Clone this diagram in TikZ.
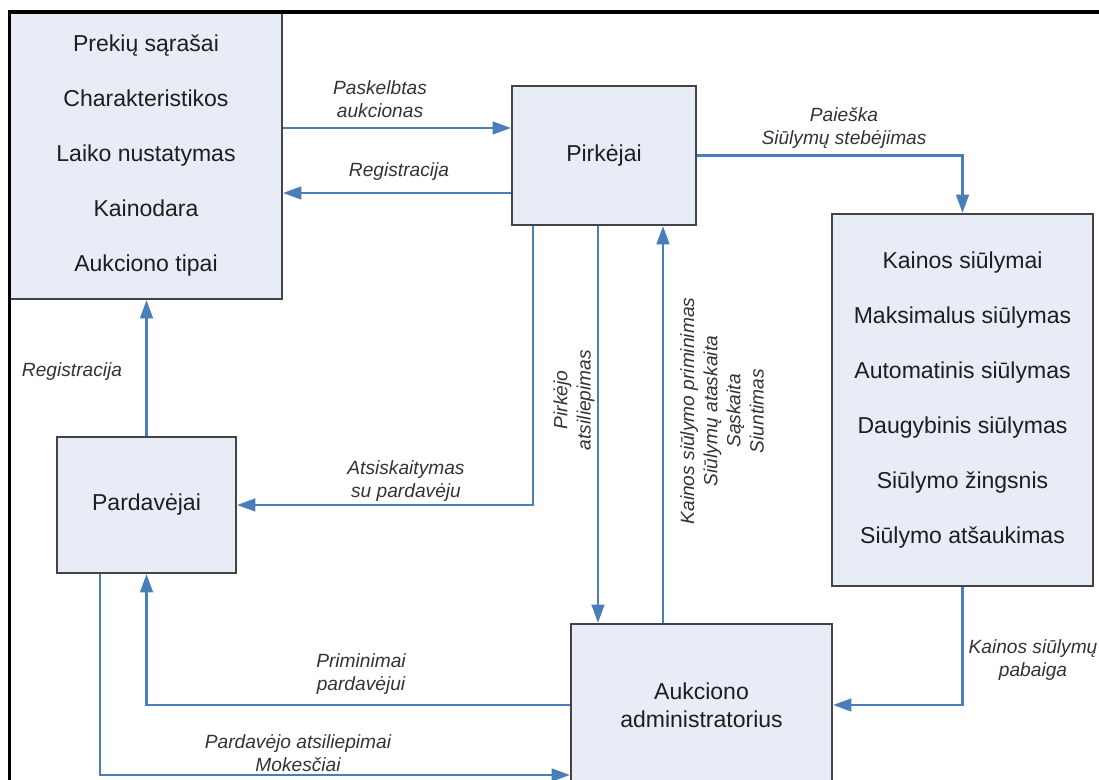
\documentclass[tikz,border=0pt]{standalone}
\usepackage{fontspec}
\setmainfont{Liberation Sans}
\usepackage{tikz}
\usetikzlibrary{arrows.meta, positioning, calc}
\usepackage{xcolor}
\definecolor{aframe}{HTML}{444444}
\definecolor{afill}{HTML}{E7ECF6}
\definecolor{aflow}{HTML}{4A7EBB}
\definecolor{atext}{HTML}{1E1E1E}
\definecolor{alabel}{HTML}{333333}
\tikzset{
  ebox/.style={draw=aframe, fill=afill, line width=0.6pt, inner sep=0pt,
               align=center, text=atext, font=\fontsize{6.55}{15.65}\selectfont},
  arr/.style={-{Triangle[length=5.2pt,width=3.6pt]}, line width=0.7pt, aflow},
  lbl/.style={align=center, inner sep=0pt, text=alabel,
              font=\fontsize{5.45}{6.6}\selectfont\itshape},
}

\begin{document}
\begin{tikzpicture}
  \useasboundingbox (0,0) rectangle (10.99,7.80);
  \clip (0,0) rectangle (10.99,7.80);

  %% Entities
  \node[ebox, minimum width=2.72cm, minimum height=2.86cm] (lists) at (1.46,6.24)
    {Prekių sąrašai\\Charakteristikos\\Laiko nustatymas\\Kainodara\\Aukciono tipai};
  \node[ebox, minimum width=1.84cm, minimum height=1.39cm] (pirk) at (6.04,6.245) {Pirkėjai};
  \node[ebox, minimum width=2.61cm, minimum height=3.72cm] (bids) at (9.625,3.80)
    {Kainos siūlymai\\Maksimalus siūlymas\\Automatinis siūlymas\\Daugybinis siūlymas\\Siūlymo žingsnis\\Siūlymo atšaukimas};
  \node[ebox, minimum width=1.79cm, minimum height=1.36cm] (seller) at (1.465,2.75) {Pardavėjai};
  \node[ebox, minimum width=2.61cm, minimum height=1.62cm,
        font=\fontsize{6.55}{8}\selectfont] (admin) at (7.015,0.75)
    {Aukciono\\administratorius};

  %% Helper points for the flows
  \coordinate (annc) at (0,6.52);
  \coordinate (regb) at (0,5.87);
  \coordinate (payx) at (5.33,0);
  \coordinate (fbx)  at (5.98,0);
  \coordinate (remx) at (6.63,0);
  \coordinate (sfee) at (1.00,0.05);

  %% Flows
  \draw[arr] (lists.east |- annc) -- (pirk.west |- annc);
  \draw[arr] (pirk.west |- regb) -- (lists.east |- regb);
  \draw[arr] (pirk.east) -| (bids.north);
  \draw[arr] (bids.south) |- (admin.east);
  \draw[arr] (admin.west) -| (seller.south);
  \draw[arr] (seller.south -| sfee) |- (admin.west |- sfee);
  \draw[arr] (seller.north) -- (lists.south -| seller.north);
  \draw[arr] (pirk.south -| payx) |- (seller.east);
  \draw[arr] (pirk.south -| fbx) -- (admin.north -| fbx);
  \draw[arr] (admin.north -| remx) -- (pirk.south -| remx);

  %% Flow labels
  \node[lbl] (lAnnc) at (3.80,6.81) {Paskelbtas\\aukcionas};
  \node[lbl] (lRegB) at (3.99,6.08) {Registracija};
  \node[lbl] (lSrch) at (8.44,6.52) {Paieška\\Siūlymų stebėjimas};
  \node[lbl] (lRegS) at (0.72,4.08) {Registracija};
  \node[lbl] (lPay)  at (4.06,2.99) {Atsiskaitymas\\su pardavėju};
  \node[lbl] (lRem)  at (3.61,1.06) {Priminimai\\pardavėjui};
  \node[lbl] (lFee)  at (2.98,0.27) {Pardavėjo atsiliepimai\\Mokesčiai};
  \node[lbl] (lEnd)  at (10.33,1.20) {Kainos siūlymų\\pabaiga};
  \node[lbl, rotate=90] (lFb)  at (5.74,3.80) {Pirkėjo\\atsiliepimas};
  \node[lbl, rotate=90] (lRep) at (7.22,3.69)
    {Kainos siūlymo priminimas\\Siūlymų ataskaita\\Sąskaita\\Siuntimas};

  %% Page frame
  \draw[black, line width=0.9pt] (0.095,0) |- (10.99,7.68);
\end{tikzpicture}
\end{document}
